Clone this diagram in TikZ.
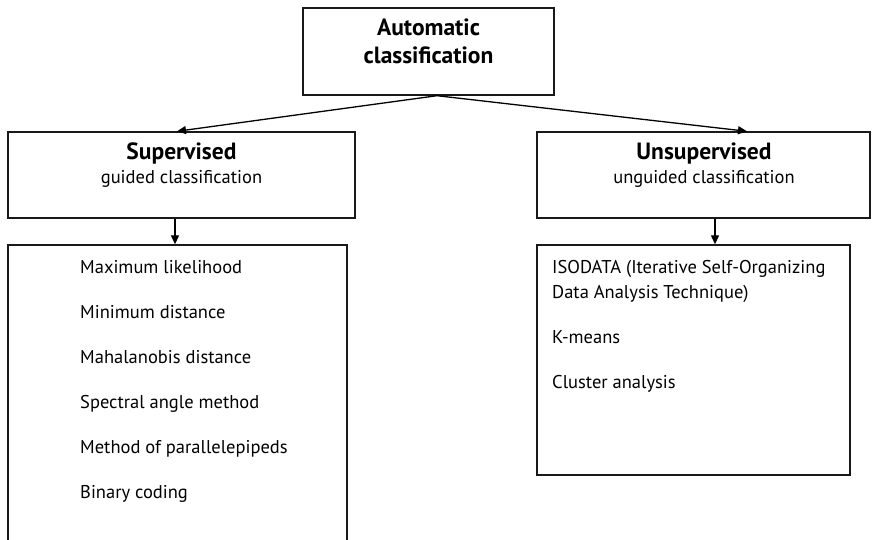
\documentclass[tikz,border=0pt]{standalone}
\usepackage{fontspec}
\setmainfont{PT Sans}
\usetikzlibrary{arrows.meta}
\begin{document}
\begin{tikzpicture}[x=1pt,y=-1pt,
  box/.style={draw=black!90, line width=1.4pt, rectangle, inner sep=0pt},
  arr/.style={line width=1.3pt, -{Triangle[length=9pt,width=8pt]}},
  ttl/.style={anchor=base, font=\fontsize{23.5}{28}\selectfont\bfseries, inner sep=0pt},
  sub/.style={anchor=base, font=\fontsize{18.5}{22}\selectfont, inner sep=0pt},
  item/.style={anchor=base west, font=\fontsize{18.5}{22}\selectfont, inner sep=0pt}]
\useasboundingbox (0,0) rectangle (872,540);
\clip (0,0) rectangle (872,540);
% boxes
\node[box, minimum width=251pt, minimum height=87pt] (top) at (428.5,51.5) {};
\node[box, minimum width=347pt, minimum height=86pt] (sup) at (181.5,175) {};
\node[box, minimum width=333pt, minimum height=86pt] (uns) at (703.5,175) {};
\node[box, minimum width=339pt, minimum height=320pt] (supl) at (177.5,405) {};
\node[box, minimum width=313pt, minimum height=230pt] (unsl) at (693.5,360) {};
% titles
\node[ttl] (t1) at (428.5,36) {Automatic};
\node[ttl] (t2) at (428.5,64) {classification};
\node[ttl] (s1) at (181.5,160) {Supervised};
\node[sub] (s2) at (181.5,183) {guided classification};
\node[ttl] (u1) at (704,160) {Unsupervised};
\node[sub] (u2) at (704,183) {unguided classification};
% items
\node[item] (a1) at (80,273) {Maximum likelihood};
\node[item] (a2) at (80,318) {Minimum distance};
\node[item] (a3) at (80,363) {Mahalanobis distance};
\node[item] (a4) at (80,408) {Spectral angle method};
\node[item] (a5) at (80,453) {Method of parallelepipeds};
\node[item] (a6) at (80,498) {Binary coding};
\node[item] (b1) at (552,273) {ISODATA (Iterative Self-Organizing};
\node[item] (b2) at (552,298) {Data Analysis Technique)};
\node[item] (b3) at (552,343) {K-means};
\node[item] (b4) at (552,388) {Cluster analysis};
% connectors
\coordinate (o) at ([xshift=8.5pt]top.south);
\draw[arr] (o) -- ([xshift=-4.5pt]sup.north);
\draw[arr] (o) -- ([xshift=43.5pt]uns.north);
\draw[arr] ([xshift=-6.5pt]sup.south) -- ([xshift=-2.5pt]supl.north);
\draw[arr] ([xshift=11.5pt]uns.south) -- ([xshift=21.5pt]unsl.north);
\end{tikzpicture}
\end{document}
